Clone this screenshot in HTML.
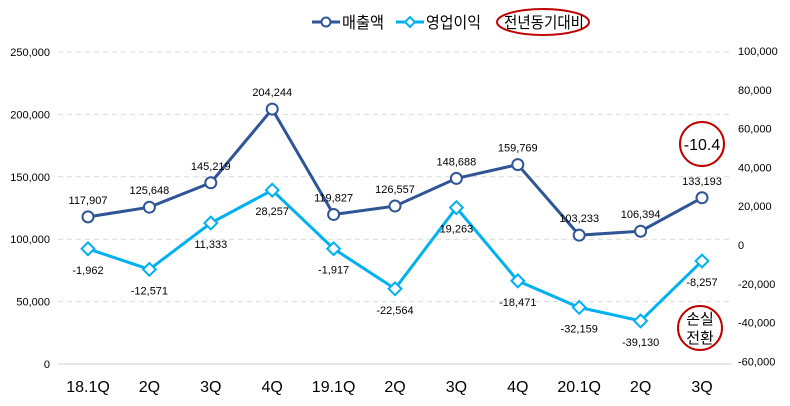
<!DOCTYPE html>
<html><head><meta charset="utf-8"><style>
body{margin:0;background:#fff;}
svg{display:block;font-family:"Liberation Sans","Noto Sans CJK KR",sans-serif;}
</style></head><body>
<svg id="c" width="790" height="406" viewBox="0 0 790 406">
<g id="grid"></g><g id="axes"></g><g id="series"></g>
<g>
 <line x1="312" y1="22" x2="340" y2="22" stroke="#2f5597" stroke-width="3"/>
 <circle cx="326" cy="22" r="4.5" fill="#fff" stroke="#2f5597" stroke-width="2"/>
 <text x="342" y="28" font-size="16" textLength="42" lengthAdjust="spacingAndGlyphs" fill="#000">매출액</text>
 <line x1="396" y1="22" x2="424" y2="22" stroke="#00b0f0" stroke-width="3"/>
 <rect x="406.5" y="18.5" width="7" height="7" transform="rotate(45 410 22)" fill="#fff" stroke="#00b0f0" stroke-width="2"/>
 <text x="426" y="28" font-size="16" textLength="55" lengthAdjust="spacingAndGlyphs" fill="#000">영업이익</text>
 <ellipse cx="543" cy="22" rx="46" ry="13" fill="none" stroke="#c00000" stroke-width="2"/>
 <text x="504" y="28" font-size="16" textLength="80" lengthAdjust="spacingAndGlyphs" fill="#000">전년동기대비</text>
</g>
<g>
 <circle cx="702" cy="144" r="22" fill="#fff" stroke="#c00000" stroke-width="2"/>
 <text x="702" y="150" font-size="16" text-anchor="middle" fill="#000">-10.4</text>
</g>
<g>
 <circle cx="700" cy="328" r="22" fill="#fff" stroke="#c00000" stroke-width="2"/>
 <text x="700" y="324" font-size="15" text-anchor="middle" fill="#000">손실</text>
 <text x="700" y="343" font-size="15" text-anchor="middle" fill="#000">전환</text>
</g>
</svg>
<script>
const categories=["18.1Q","2Q","3Q","4Q","19.1Q","2Q","3Q","4Q","20.1Q","2Q","3Q"];
const sales=[117907,125648,145219,204244,119827,126557,148688,159769,103233,106394,133193];
const profit=[-1962,-12571,11333,28257,-1917,-22564,19263,-18471,-32159,-39130,-8257];
const leftTicks=[0,50000,100000,150000,200000,250000];
const rightTicks=[-60000,-40000,-20000,0,20000,40000,60000,80000,100000];
const NS="http://www.w3.org/2000/svg";
const x=i=>88+i*61.4;
const yL=v=>364-v*312/250000;
const yR=v=>245-v*194/100000;
const fmt=v=>v.toLocaleString("en-US");
function mk(tag,attrs,parent,text){const e=document.createElementNS(NS,tag);for(const k in attrs)e.setAttribute(k,attrs[k]);if(text!==undefined)e.textContent=text;parent.appendChild(e);return e;}
const grid=document.getElementById("grid"),axes=document.getElementById("axes"),ser=document.getElementById("series");
leftTicks.forEach(t=>{
 const l=mk("line",{x1:58,x2:732,y1:yL(t),y2:yL(t),stroke:t===0?"#d0d0d0":"#d9d9d9","stroke-dasharray":t===0?"":"5,4"},grid);
 
 
 const tx=mk("text",{x:50,y:yL(t)+4,"font-size":11,"text-anchor":"end",fill:"#000"},axes,fmt(t));
 
 
});
rightTicks.forEach(t=>{
 const tx=mk("text",{x:738,y:yR(t)+4,"font-size":11,fill:"#000"},axes,fmt(t));
 
 
});
categories.forEach((c,i)=>{
 const tx=mk("text",{x:x(i),y:392,"font-size":16,"text-anchor":"middle",fill:"#000"},axes,c);
 
 
});
const sp=mk("polyline",{points:sales.map((v,i)=>x(i)+","+yL(v)).join(" "),fill:"none",stroke:"#2f5597","stroke-width":3},ser);


const pp=mk("polyline",{points:profit.map((v,i)=>x(i)+","+yR(v)).join(" "),fill:"none",stroke:"#00b0f0","stroke-width":3},ser);


sales.forEach((v,i)=>{
 const c=mk("circle",{cx:x(i),cy:yL(v),r:5.5,fill:"#fff",stroke:"#2f5597","stroke-width":2},ser);
 
 
 const t=mk("text",{x:x(i),y:yL(v)-13,"font-size":11,"text-anchor":"middle",fill:"#000"},ser,fmt(v));
 
 
});
profit.forEach((v,i)=>{
 const cx=x(i),cy=yR(v);
 const r=mk("rect",{x:cx-4.5,y:cy-4.5,width:9,height:9,transform:`rotate(45 ${cx} ${cy})`,fill:"#fff",stroke:"#00b0f0","stroke-width":2},ser);
 
 
 const t=mk("text",{x:cx,y:cy+25,"font-size":11,"text-anchor":"middle",fill:"#000"},ser,fmt(v));
 
 
});
</script>
</body></html>
